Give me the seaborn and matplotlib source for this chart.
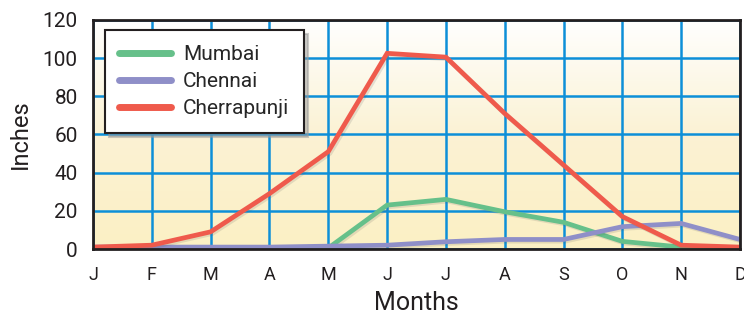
import matplotlib
matplotlib.use("Agg")
import matplotlib.pyplot as plt
import matplotlib.patheffects as pe
from matplotlib.colors import LinearSegmentedColormap
import numpy as np
import pandas as pd
import seaborn as sns

# Monthly rainfall (inches)
months = ["J", "F", "M", "A", "M", "J", "J", "A", "S", "O", "N", "D"]
mumbai = [0, 0, 0, 0, 0.5, 23, 26, 19.5, 14, 4, 1, 0.5]
chennai = [1, 1, 1, 1, 1.5, 2, 3.8, 5, 5, 11.7, 13.4, 5]
cherrapunji = [1, 2, 9, 29, 51, 102.5, 100.5, 71, 44, 17, 2, 1]
cities = ["Mumbai", "Chennai", "Cherrapunji"]
colors = ["#66c08a", "#8f8fc8", "#ef5a4c"]

df = pd.DataFrame({
    "month": list(range(12)) * 3,
    "inches": mumbai + chennai + cherrapunji,
    "city": [c for c in cities for _ in range(12)],
})

sns.set_style("white")
plt.rcParams["font.family"] = ["Roboto", "DejaVu Sans"]

fig = plt.figure(figsize=(7.44, 3.16), dpi=100)
ax = fig.add_axes([0.125, 0.212, 0.8696, 0.725])

grid_blue = "#0d8fd8"

# gradient background
cmap = LinearSegmentedColormap.from_list("bg", ["#fcf0c4", "#fbf2d4", "#ffffff"])
grad = np.linspace(0, 1, 256).reshape(-1, 1)
ax.imshow(grad, cmap=cmap, aspect="auto", extent=[0, 11, 0, 120],
          origin="lower", zorder=0)

sns.lineplot(data=df, x="month", y="inches", hue="city", palette=colors,
             linewidth=3.4, ax=ax, zorder=3)
for ln in ax.lines:
    ln.set_path_effects([pe.SimpleLineShadow(offset=(1.2, -1.2), alpha=0.15,
                                             shadow_color="#555555"),
                         pe.Normal()])
    ln.set_solid_joinstyle("miter")

ax.set_xlim(0, 11)
ax.set_ylim(0, 120)
ax.set_xticks(range(12))
ax.set_xticklabels(months)
ax.set_yticks(range(0, 121, 20))
ax.grid(True, color=grid_blue, linewidth=1.8, zorder=1)
ax.set_axisbelow(True)
ax.tick_params(axis="both", colors=grid_blue, width=1.8, length=8,
               labelcolor="#231f20", direction="out")
ax.tick_params(axis="y", labelsize=15, pad=3)
ax.tick_params(axis="x", labelsize=13, pad=4)
for s in ax.spines.values():
    s.set_color("#231f20")
    s.set_linewidth(2)
    s.set_zorder(4)

ax.set_xlabel("Months", fontsize=18, color="#231f20", labelpad=5)
ax.set_ylabel("Inches", fontsize=17, color="#231f20", labelpad=8)

leg = ax.legend(loc="upper left", bbox_to_anchor=(0.018, 0.955), fontsize=15,
                frameon=True, fancybox=False,
                shadow={"color": "#999999", "alpha": 0.5, "ox": 3, "oy": -3},
                handlelength=2.5, handletextpad=0.55, borderpad=0.7,
                labelspacing=0.4, borderaxespad=0)
leg.get_frame().set_edgecolor("#231f20")
leg.get_frame().set_linewidth(1.5)
leg.get_frame().set_alpha(1)
for h in leg.get_lines():
    h.set_linewidth(5)
    h.set_path_effects([])
leg.set_zorder(5)

fig.savefig("out.png", dpi=100)
